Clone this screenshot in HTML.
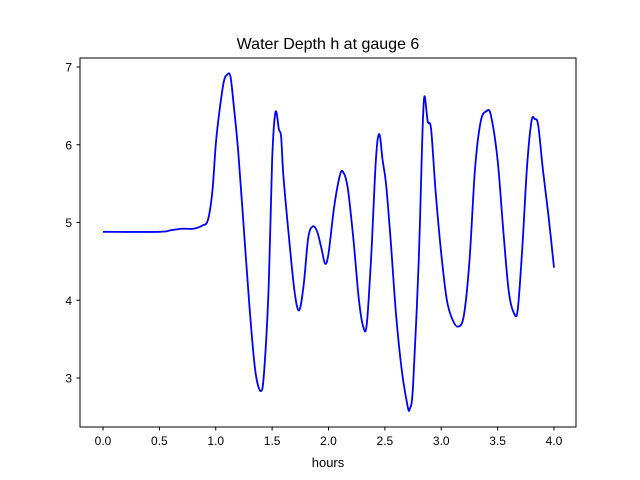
<!DOCTYPE html>
<html><head><meta charset="utf-8"><style>
body{margin:0;background:#fff;}
svg{display:block;font-family:"Liberation Sans","DejaVu Sans",sans-serif;}
</style></head><body>
<svg id="chart" width="640" height="480">
<rect width="640" height="480" fill="#fff"/>
<text x="328" y="49" text-anchor="middle" font-size="16">Water Depth h at gauge 6</text>
<text x="328" y="467" text-anchor="middle" font-size="13">hours</text>
<g id="ticks"></g>
<path id="line" fill="none" stroke="#0000ff" stroke-width="1.8"/>
<rect x="80" y="58" width="496" height="369" fill="none" stroke="#000" stroke-width="1"/>
</svg>
<script>
const times=[0,0.5,0.6,0.7,0.8,0.88,0.93,0.97,1.0,1.03,1.07,1.1,1.13,1.16,1.2,1.25,1.3,1.35,1.4,1.43,1.47,1.5,1.53,1.56,1.58,1.6,1.65,1.7,1.74,1.78,1.82,1.86,1.9,1.94,1.97,2.0,2.05,2.1,2.13,2.17,2.22,2.27,2.31,2.34,2.38,2.42,2.45,2.48,2.51,2.55,2.6,2.65,2.7,2.72,2.75,2.8,2.83,2.85,2.88,2.91,2.95,3.0,3.05,3.1,3.15,3.2,3.25,3.3,3.35,3.4,3.44,3.5,3.55,3.6,3.65,3.68,3.72,3.76,3.8,3.83,3.86,3.9,3.95,4.0];
const depths=[4.88,4.88,4.9,4.92,4.92,4.96,5.03,5.4,6.0,6.4,6.8,6.9,6.88,6.5,5.9,4.9,3.9,3.1,2.83,3.1,4.2,5.8,6.42,6.2,6.1,5.6,4.8,4.1,3.87,4.2,4.8,4.95,4.88,4.65,4.47,4.6,5.2,5.6,5.65,5.45,4.8,4.0,3.65,3.7,4.6,5.8,6.14,5.8,5.5,4.8,3.8,3.1,2.65,2.6,2.9,4.5,6.0,6.62,6.3,6.2,5.4,4.6,4.0,3.75,3.66,3.8,4.5,5.7,6.3,6.43,6.38,5.8,4.9,4.1,3.82,3.9,4.7,5.7,6.3,6.33,6.25,5.7,5.1,4.42];
const xTicks=[0,0.5,1,1.5,2,2.5,3,3.5,4];
const xTickLabels=["0.0","0.5","1.0","1.5","2.0","2.5","3.0","3.5","4.0"];
const yTicks=[3,4,5,6,7];
const yTickLabels=["3","4","5","6","7"];
const X=t=>103+t*112.75;
const Y=h=>378-(h-3)*77.75;
const NS="http://www.w3.org/2000/svg";
const g=document.getElementById('ticks');
function mk(tag,attrs){const e=document.createElementNS(NS,tag);for(const k in attrs)e.setAttribute(k,attrs[k]);return e;}
xTicks.forEach((t,i)=>{
 const l=mk('line',{x1:X(t),x2:X(t),y1:427,y2:430.5,stroke:'#000'});
 
 
 g.appendChild(l);
 const tx=mk('text',{x:X(t),y:445,'text-anchor':'middle','font-size':'12'});
 tx.textContent=xTickLabels[i];
 
 
 g.appendChild(tx);
});
yTicks.forEach((v,i)=>{
 const l=mk('line',{x1:76.5,x2:80,y1:Y(v),y2:Y(v),stroke:'#000'});
 
 
 g.appendChild(l);
 const tx=mk('text',{x:72,y:Y(v)+4.5,'text-anchor':'end','font-size':'12'});
 tx.textContent=yTickLabels[i];
 
 
 g.appendChild(tx);
});
const P=times.map((t,i)=>[X(t),Y(depths[i])]);
let d='M'+P[0][0]+','+P[0][1];
for(let i=0;i<P.length-1;i++){
 const p0=P[Math.max(0,i-1)],p1=P[i],p2=P[i+1],p3=P[Math.min(P.length-1,i+2)];
 const c1=[p1[0]+(p2[0]-p0[0])/6,p1[1]+(p2[1]-p0[1])/6];
 const c2=[p2[0]-(p3[0]-p1[0])/6,p2[1]-(p3[1]-p1[1])/6];
 d+=' C'+c1[0]+','+c1[1]+' '+c2[0]+','+c2[1]+' '+p2[0]+','+p2[1];
}
document.getElementById('line').setAttribute('d',d);
</script>
</body></html>
